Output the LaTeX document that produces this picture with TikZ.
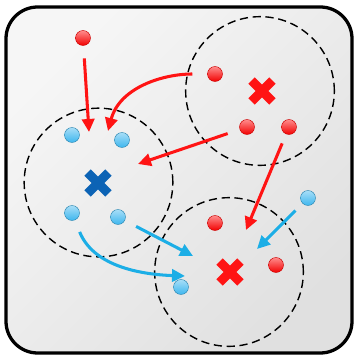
\documentclass[tikz,border=0pt]{standalone}
\usepackage{tikz}
\usetikzlibrary{arrows.meta, shapes.misc, positioning}

\definecolor{ptred}{HTML}{FF1414}
\definecolor{ptblue}{HTML}{1CAEE6}
\definecolor{dotblue}{HTML}{3DB6EE}
\definecolor{ctrblue}{HTML}{0C63B5}

\begin{document}
\begin{tikzpicture}[x=0.03cm, y=0.03cm,
  reddot/.style={circle, minimum size=0.45cm, inner sep=0pt, draw=red!80!black, line width=0.4pt, top color=red!45!white, bottom color=red!95!black},
  bluedot/.style={circle, minimum size=0.45cm, inner sep=0pt, draw=dotblue!75!black, line width=0.4pt, top color=dotblue!45!white, bottom color=dotblue},
  ctr/.style={cross out, minimum size=0.36cm, inner sep=0pt, line width=7.6pt},
  cluster/.style={circle, draw=black, line width=1.2pt, dash pattern=on 7pt off 4pt, minimum size=4.46cm, inner sep=0pt},
  move/.style={-{Triangle[length=3.9mm,width=3.7mm]}, line width=2.6pt, shorten <=0.38cm}]
  \useasboundingbox (0,0) rectangle (354,358);
  % Frame
  \draw[line width=2.8pt, rounded corners=0.95cm, top color=gray!7, bottom color=gray!24, shading angle=45] (6,5) rectangle (352,351);
  % Clusters
  \node[cluster] (cl1) at (260,267) {};
  \node[cluster] (cl2) at (98.5,175.5) {};
  \node[cluster] (cl3) at (229,86) {};
  % Centroids
  \node[ctr, draw=ptred] (m1) at (262,267) {};
  \node[ctr, draw=ctrblue] (m2) at (98,175) {};
  \node[ctr, draw=ptred] (m3) at (230,86) {};
  % Points
  \foreach \n/\x/\y in {r1/83/320, r2/215/284, r3/247/231, r4/289/231, r5/215/135, r6/276/93}
    \node[reddot] (\n) at (\x,\y) {};
  \foreach \n/\x/\y in {b1/72/223, b2/122/218, b3/72/145, b4/118/141, b5/308/160, b6/181/71}
    \node[bluedot] (\n) at (\x,\y) {};
  % Arrow targets
  \coordinate (e1) at (89,226);
  \coordinate (e2) at (108,227);
  \coordinate (e3) at (138,194);
  \coordinate (e4) at (246,128);
  \coordinate (e5) at (193,102);
  \coordinate (e6) at (185,82);
  \coordinate (e7) at (257,109);
  % Reassignments
  \draw[move, ptred] (r1) -- (e1);
  \draw[move, ptred, shorten <=0.45cm] (r2) to[out=180, in=75] (e2);
  \draw[move, ptred] (r3) -- (e3);
  \draw[move, ptred, shorten <=0.3cm] (r4) -- (e4);
  \draw[move, ptblue] (b4) -- (e5);
  \draw[move, ptblue] (b3) to[out=-68, in=178] (e6);
  \draw[move, ptblue, shorten <=0.3cm] (b5) -- (e7);
\end{tikzpicture}
\end{document}
